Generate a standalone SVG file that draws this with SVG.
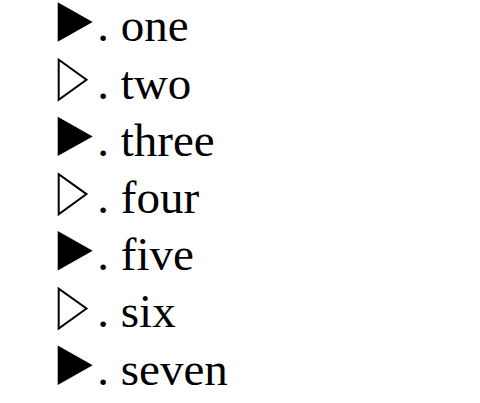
<svg xmlns="http://www.w3.org/2000/svg" width="480" height="403" viewBox="0 0 480 403">
<style>
.t{font-family:"Liberation Serif","Times New Roman",serif;font-size:47px;fill:#000}
.f{fill:#000;stroke:none}
.o{fill:#fff;stroke:#000;stroke-width:2;stroke-linejoin:miter}
</style>
<rect width="480" height="403" fill="#fff"/>
<g id="item1"><polygon class="f" points="57.7,2.3 57.7,41.7 92.7,22"/><text class="t" x="97.3" y="41.3">. one</text></g>
<g id="item2"><polygon class="o" points="58.7,59.8 58.7,99.8 86.5,79.7"/><text class="t" x="97.3" y="98.5">. two</text></g>
<g id="item3"><polygon class="f" points="57.7,116.7 57.7,156.1 92.7,136.4"/><text class="t" x="97.3" y="155.7">. three</text></g>
<g id="item4"><polygon class="o" points="58.7,174.2 58.7,214.2 86.5,194.1"/><text class="t" x="97.3" y="212.9">. four</text></g>
<g id="item5"><polygon class="f" points="57.7,231.1 57.7,270.5 92.7,250.8"/><text class="t" x="97.3" y="270.1">. five</text></g>
<g id="item6"><polygon class="o" points="58.7,288.6 58.7,328.6 86.5,308.5"/><text class="t" x="97.3" y="327.3">. six</text></g>
<g id="item7"><polygon class="f" points="57.7,345.5 57.7,384.9 92.7,365.2"/><text class="t" x="97.3" y="384.5">. seven</text></g>
<g id="connectors"/>
</svg>
